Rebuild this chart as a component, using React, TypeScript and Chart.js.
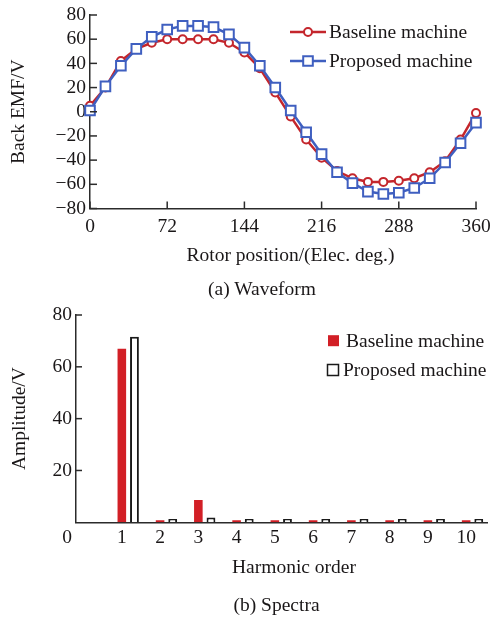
import React, { useEffect, useRef } from 'react';
import { Chart, registerables } from 'chart.js';

Chart.register(...registerables);

const FONT_FAMILY = '"Liberation Serif", "Times New Roman", Times, serif';
const FONT_SIZE = 19.5;
const TEXT_COLOR = '#1a1718';
const AXIS_COLOR = '#2b2b2b';
const RED_LINE = '#c4262c';
const BLUE_LINE = '#3f5fc0';
const RED_BAR = '#d21f26';

// ---- (a) Waveform data ----
const rotorPosition = [0, 14.4, 28.8, 43.2, 57.6, 72, 86.4, 100.8, 115.2, 129.6, 144, 158.4, 172.8, 187.2, 201.6, 216, 230.4, 244.8, 259.2, 273.6, 288, 302.4, 316.8, 331.2, 345.6, 360];
const baselineEmf = [5, 20, 42, 52, 57, 60, 60, 60, 60, 57, 49, 36, 16, -4, -23, -38, -49, -55, -58, -58, -57, -55, -50, -41, -23, -1];
const proposedEmf = [1, 21, 38, 52, 62, 68, 71, 71, 70, 64, 53, 38, 20, 1, -17, -35, -50, -59, -66, -68, -67, -63, -55, -42, -26, -9];
const positionTicks = [0, 72, 144, 216, 288, 360];
const emfTicks = [-80, -60, -40, -20, 0, 20, 40, 60, 80];

// ---- (b) Spectra data ----
const harmonicOrder = [1, 2, 3, 4, 5, 6, 7, 8, 9, 10];
const baselineAmplitude = [67, 0.8, 8.6, 0.8, 0.8, 0.8, 0.8, 0.8, 0.8, 0.8];
const proposedAmplitude = [71.6, 1.3, 1.9, 1.3, 1.3, 1.3, 1.3, 1.3, 1.3, 1.3];
const amplitudeTicks = [0, 20, 40, 60, 80];

const seriesNames = ['Baseline machine', 'Proposed machine'];

const fmt = (v: number) => (v < 0 ? '\u2212' + Math.abs(v) : String(v));
const font = { family: FONT_FAMILY, size: FONT_SIZE, lineHeight: 1.2 };
const cssFont = `${FONT_SIZE}px ${FONT_FAMILY}`;

function inwardTicks(lengths: Record<string, number>, skipZeroY = false) {
  return {
    id: 'inwardTicks',
    afterDraw(chart: any) {
      const ctx = chart.ctx;
      ctx.save();
      ctx.strokeStyle = AXIS_COLOR;
      ctx.lineWidth = 1.5;
      Object.keys(lengths).forEach((id) => {
        const scale = chart.scales[id];
        const len = lengths[id];
        scale.ticks.forEach((t: any) => {
          if (skipZeroY && id === 'y' && t.value === 0) return;
          const p = scale.getPixelForValue(t.value);
          ctx.beginPath();
          if (scale.isHorizontal()) {
            ctx.moveTo(p, scale.top);
            ctx.lineTo(p, scale.top - len);
          } else {
            ctx.moveTo(scale.right, p);
            ctx.lineTo(scale.right + len, p);
          }
          ctx.stroke();
        });
      });
      ctx.restore();
    },
  };
}

const waveLegend = {
  id: 'waveLegend',
  afterDraw(chart: any) {
    const ctx = chart.ctx;
    const rows = [32, 61];
    const x0 = 290;
    const x1 = 326;
    const tx = 329;
    ctx.save();
    chart.data.datasets.forEach((ds: any, i: number) => {
      const y = rows[i];
      ctx.strokeStyle = ds.borderColor;
      ctx.lineWidth = ds.borderWidth;
      ctx.beginPath();
      ctx.moveTo(x0, y);
      ctx.lineTo(x1, y);
      ctx.stroke();
      const mx = (x0 + x1) / 2;
      ctx.lineWidth = ds.pointBorderWidth;
      ctx.fillStyle = ds.pointBackgroundColor;
      ctx.beginPath();
      if (ds.pointStyle === 'rect') {
        const h = ds.pointRadius * Math.SQRT1_2;
        ctx.rect(mx - h, y - h, 2 * h, 2 * h);
      } else {
        ctx.arc(mx, y, ds.pointRadius, 0, Math.PI * 2);
      }
      ctx.fill();
      ctx.stroke();
      ctx.fillStyle = TEXT_COLOR;
      ctx.font = cssFont;
      ctx.textAlign = 'left';
      ctx.textBaseline = 'middle';
      ctx.fillText(ds.label, tx, y + 1);
    });
    ctx.restore();
  },
};

const specLegend = {
  id: 'specLegend',
  afterDraw(chart: any) {
    const ctx = chart.ctx;
    const rows = [{ cx: 333.5, y: 50.7, tx: 346 }, { cx: 333, y: 80, tx: 343 }];
    ctx.save();
    chart.data.datasets.forEach((ds: any, i: number) => {
      const r = rows[i];
      const s = 11;
      ctx.fillStyle = ds.backgroundColor;
      ctx.fillRect(r.cx - s / 2, r.y - s / 2, s, s);
      if (ds.borderWidth > 0) {
        ctx.strokeStyle = ds.borderColor;
        ctx.lineWidth = 1.5;
        ctx.strokeRect(r.cx - s / 2, r.y - s / 2, s, s);
      }
      ctx.fillStyle = TEXT_COLOR;
      ctx.font = cssFont;
      ctx.textAlign = 'left';
      ctx.textBaseline = 'middle';
      ctx.fillText(ds.label, r.tx, r.y + 1);
    });
    ctx.restore();
  },
};

const zeroLabel = {
  id: 'zeroLabel',
  afterDraw(chart: any) {
    const ctx = chart.ctx;
    const ys = chart.scales.y;
    const xs = chart.scales.x;
    ctx.save();
    ctx.fillStyle = TEXT_COLOR;
    ctx.font = cssFont;
    ctx.textAlign = 'right';
    ctx.textBaseline = 'middle';
    ctx.fillText(fmt(amplitudeTicks[0]), ys.right - 4, xs.top + 4 + (FONT_SIZE * 1.2) / 2);
    ctx.restore();
  },
};

function waveConfig(): any {
  return {
    type: 'line',
    data: {
      datasets: [
        {
          label: seriesNames[0],
          data: rotorPosition.map((x, i) => ({ x, y: baselineEmf[i] })),
          borderColor: RED_LINE,
          backgroundColor: RED_LINE,
          borderWidth: 2.5,
          pointStyle: 'circle',
          pointRadius: 4,
          pointBorderWidth: 2,
          pointBackgroundColor: '#ffffff',
          pointBorderColor: RED_LINE,
          tension: 0,
          clip: false,
          order: 1,
        },
        {
          label: seriesNames[1],
          data: rotorPosition.map((x, i) => ({ x, y: proposedEmf[i] })),
          borderColor: BLUE_LINE,
          backgroundColor: BLUE_LINE,
          borderWidth: 2.5,
          pointStyle: 'rect',
          pointRadius: 6.8,
          pointBorderWidth: 2,
          pointBackgroundColor: '#ffffff',
          pointBorderColor: BLUE_LINE,
          tension: 0,
          clip: false,
          order: 0,
        },
      ],
    },
    options: {
      animation: false,
      responsive: true,
      maintainAspectRatio: false,
      events: [],
      layout: { padding: { left: 0, top: 15, right: 15, bottom: 0 } },
      plugins: { legend: { display: false }, tooltip: { enabled: false } },
      scales: {
        x: {
          type: 'linear',
          min: positionTicks[0],
          max: positionTicks[positionTicks.length - 1],
          offset: false,
          grid: { display: false, drawTicks: false },
          border: { display: true, color: AXIS_COLOR, width: 1.5 },
          ticks: { font, color: TEXT_COLOR, padding: 7, autoSkip: false, maxRotation: 0, callback: (v: number) => fmt(v) },
          afterBuildTicks: (s: any) => {
            s.ticks = positionTicks.map((value) => ({ value }));
          },
          afterFit: (s: any) => {
            s.height = 66.5;
            s.paddingLeft = 0;
            s.paddingRight = 0;
          },
        },
        y: {
          type: 'linear',
          min: emfTicks[0],
          max: emfTicks[emfTicks.length - 1],
          grid: { display: false, drawTicks: false },
          border: { display: true, color: AXIS_COLOR, width: 1.5 },
          ticks: { font, color: TEXT_COLOR, padding: 4, autoSkip: false, callback: (v: number) => fmt(v) },
          title: { display: true, text: 'Back EMF/V', font, color: TEXT_COLOR, padding: { top: 7, bottom: 0 } },
          afterBuildTicks: (s: any) => {
            s.ticks = emfTicks.map((value) => ({ value }));
          },
          afterFit: (s: any) => {
            s.width = 90;
            s.paddingTop = 0;
            s.paddingBottom = 0;
          },
        },
      },
    },
    plugins: [inwardTicks({ x: 7, y: 7 }), waveLegend],
  };
}

function specConfig(): any {
  return {
    type: 'bar',
    data: {
      datasets: [
        {
          label: seriesNames[0],
          data: harmonicOrder.map((x, i) => ({ x, y: baselineAmplitude[i] })),
          backgroundColor: RED_BAR,
          borderColor: RED_BAR,
          borderWidth: 0,
          categoryPercentage: 0.66,
          barPercentage: 0.68,
        },
        {
          label: seriesNames[1],
          data: harmonicOrder.map((x, i) => ({ x, y: proposedAmplitude[i] })),
          backgroundColor: '#ffffff',
          borderColor: '#1a1a1a',
          borderWidth: 2,
          borderSkipped: 'bottom',
          categoryPercentage: 0.66,
          barPercentage: 0.7,
        },
      ],
    },
    options: {
      animation: false,
      responsive: true,
      maintainAspectRatio: false,
      events: [],
      layout: { padding: { left: 0, top: 25, right: 4, bottom: 0 } },
      plugins: { legend: { display: false }, tooltip: { enabled: false } },
      scales: {
        x: {
          type: 'linear',
          min: -0.363,
          max: 10.38,
          offset: false,
          grid: { display: false, drawTicks: false, offset: false },
          border: { display: true, color: AXIS_COLOR, width: 1.5 },
          ticks: { font, color: TEXT_COLOR, padding: 4, labelOffset: -6.3, autoSkip: false, maxRotation: 0, callback: (v: number) => String(v) },
          afterBuildTicks: (s: any) => {
            s.ticks = harmonicOrder.map((value) => ({ value }));
          },
          afterFit: (s: any) => {
            s.height = 62.7;
            s.paddingLeft = 0;
            s.paddingRight = 0;
          },
        },
        y: {
          type: 'linear',
          min: amplitudeTicks[0],
          max: amplitudeTicks[amplitudeTicks.length - 1],
          grid: { display: false, drawTicks: false },
          border: { display: true, color: AXIS_COLOR, width: 1.5 },
          ticks: { font, color: TEXT_COLOR, padding: 4, autoSkip: false, callback: (v: number) => (v === 0 ? '' : fmt(v)) },
          title: { display: true, text: 'Amplitude/V', font, color: TEXT_COLOR, padding: { top: 8, bottom: 0 } },
          afterBuildTicks: (s: any) => {
            s.ticks = amplitudeTicks.map((value) => ({ value }));
          },
          afterFit: (s: any) => {
            s.width = 76;
            s.paddingTop = 0;
            s.paddingBottom = 0;
          },
        },
      },
    },
    plugins: [inwardTicks({ y: 6 }, true), specLegend, zeroLabel],
  };
}

function Label({ text, cx, cy }: { text: string; cx: number; cy: number }) {
  return (
    <div
      style={{
        position: 'absolute',
        left: cx - 160,
        top: cy - 12,
        width: 320,
        height: 24,
        lineHeight: '24px',
        textAlign: 'center',
        font: cssFont,
        color: TEXT_COLOR,
        whiteSpace: 'nowrap',
      }}
    >
      {text}
    </div>
  );
}

export default function App() {
  const waveRef = useRef<HTMLCanvasElement>(null);
  const specRef = useRef<HTMLCanvasElement>(null);

  useEffect(() => {
    const wave = new Chart(waveRef.current as HTMLCanvasElement, waveConfig());
    const spec = new Chart(specRef.current as HTMLCanvasElement, specConfig());
    return () => {
      wave.destroy();
      spec.destroy();
    };
  }, []);

  return (
    <div style={{ position: 'absolute', left: 0, top: 0, width: 491, height: 618, background: '#ffffff', overflow: 'hidden' }}>
      <div style={{ position: 'absolute', left: 0, top: 0, width: 491, height: 275 }}>
        <canvas ref={waveRef} />
      </div>
      <div style={{ position: 'absolute', left: 0, top: 290, width: 491, height: 295 }}>
        <canvas ref={specRef} />
      </div>
      <Label text="Rotor position/(Elec. deg.)" cx={290.5} cy={256} />
      <Label text="(a) Waveform" cx={262} cy={290} />
      <Label text="Harmonic order" cx={294} cy={568} />
      <Label text="(b) Spectra" cx={276.5} cy={606} />
    </div>
  );
}
